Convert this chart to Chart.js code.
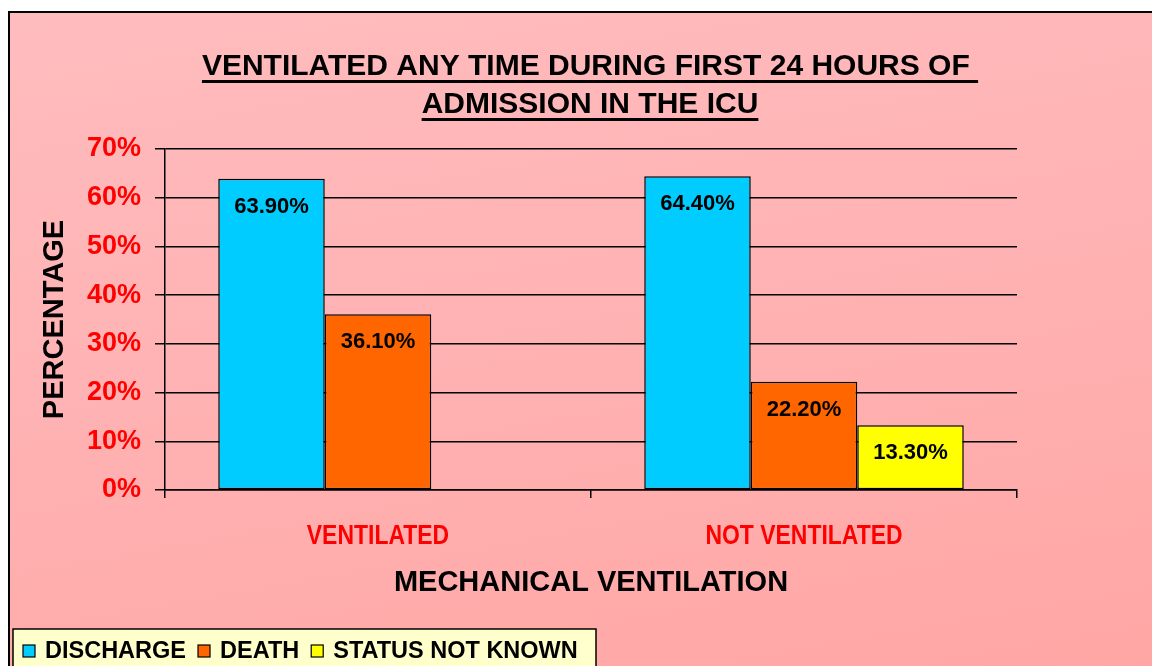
<!DOCTYPE html>
<html>
<head>
<meta charset="utf-8">
<script src="https://cdn.jsdelivr.net/npm/chart.js@4"></script>
<style>
  html, body { margin: 0; padding: 0; background: #fff; overflow: hidden; }
  #frame {
    position: absolute; left: 8px; top: 11px; width: 1200px; height: 700px;
    border: 2px solid #000;
    background: linear-gradient(170deg, #ffbcbe 0%, #ffb2b3 45%, #ffa5a3 100%);
  }
  #wrap { position: absolute; left: 0; top: 0; width: 1152px; height: 666px; }
</style>
</head>
<body>
<div id="frame"></div>
<div id="wrap"><canvas id="chart" width="1152" height="666"></canvas></div>
<script>
// data
var categories = ['VENTILATED', 'NOT VENTILATED'];
var seriesNames = ['DISCHARGE', 'DEATH', 'STATUS NOT KNOWN'];
var discharge = [63.9, 64.4];
var death = [36.1, 22.2];
var statusNotKnown = [null, 13.3];
var seriesColors = ['#00ccff', '#ff6600', '#ffff00'];
var titleLines = ['VENTILATED ANY TIME DURING FIRST 24 HOURS OF ', 'ADMISSION IN THE ICU'];
var yMax = 70, yStep = 10;

var FONT = '"Liberation Sans", Arial, sans-serif';

// underlined two line title
var titlePlugin = {
  id: 'ulTitle',
  afterDraw: function (chart) {
    var ctx = chart.ctx;
    var cx = 590, base = [75, 113];
    ctx.save();
    ctx.font = 'bold 30px ' + FONT;
    ctx.fillStyle = '#000';
    ctx.textAlign = 'left';
    ctx.textBaseline = 'alphabetic';
    titleLines.forEach(function (line, i) {
      var w = ctx.measureText(line).width;
      var x0 = cx - w / 2;
      ctx.fillText(line, x0, base[i]);
      ctx.fillRect(x0, base[i] + 5, w, 3);
    });
    ctx.restore();
  }
};

// category labels in a condensed face (no narrow font installed, so squeeze it)
var catPlugin = {
  id: 'narrowCats',
  afterDraw: function (chart) {
    var ctx = chart.ctx, xs = chart.scales.x;
    ctx.save();
    ctx.font = 'bold 27px ' + FONT;
    ctx.fillStyle = '#ff0000';
    ctx.textAlign = 'center';
    ctx.textBaseline = 'middle';
    xs.ticks.forEach(function (t, i) {
      var px = xs.getPixelForTick(i);
      ctx.save();
      ctx.translate(px, 537);
      ctx.scale(0.85, 1);
      ctx.fillText(categories[t.value], 0, 0);
      ctx.restore();
    });
    ctx.restore();
  }
};

// value labels inside the top of each bar
var labelPlugin = {
  id: 'barLabels',
  afterDatasetsDraw: function (chart) {
    var ctx = chart.ctx;
    ctx.save();
    ctx.font = 'bold 22px ' + FONT;
    ctx.fillStyle = '#000';
    ctx.textAlign = 'center';
    ctx.textBaseline = 'middle';
    chart.data.datasets.forEach(function (ds, i) {
      chart.getDatasetMeta(i).data.forEach(function (el, j) {
        var v = ds.data[j];
        if (v === null || v === undefined) return;
        ctx.fillText(v.toFixed(2) + '%', el.x, el.y + 28);
      });
    });
    ctx.restore();
  }
};

// boxed legend at the bottom left
var legendPlugin = {
  id: 'boxLegend',
  afterDraw: function (chart) {
    var ctx = chart.ctx;
    ctx.save();
    ctx.fillStyle = '#ffffcc';
    ctx.fillRect(13, 629, 583, 60);
    ctx.lineWidth = 1.5;
    ctx.strokeStyle = '#000';
    ctx.strokeRect(13, 629, 583, 60);
    ctx.font = 'bold 23.5px ' + FONT;
    ctx.textBaseline = 'middle';
    ctx.textAlign = 'left';
    var x = 23, y = 651;
    chart.data.datasets.forEach(function (ds) {
      ctx.fillStyle = ds.backgroundColor;
      ctx.fillRect(x, y - 6, 12, 12);
      ctx.lineWidth = 1.2;
      ctx.strokeRect(x, y - 6, 12, 12);
      x += 22;
      ctx.fillStyle = '#000';
      ctx.fillText(ds.label, x, y + 1);
      x += ctx.measureText(ds.label).width + 12;
    });
    ctx.restore();
  }
};

var seriesData = [discharge, death, statusNotKnown];

new Chart(document.getElementById('chart'), {
  type: 'bar',
  data: {
    labels: categories,
    datasets: seriesNames.map(function (name, i) {
      return {
        label: name,
        data: seriesData[i],
        backgroundColor: seriesColors[i],
        borderColor: '#000',
        borderWidth: 1.5,
        borderSkipped: false,
        categoryPercentage: 0.75,
        barPercentage: 1
      };
    })
  },
  options: {
    responsive: false,
    animation: false,
    layout: { padding: { top: 149, right: 135, bottom: 66, left: 0 } },
    plugins: {
      legend: { display: false },
      title: { display: false },
      tooltip: { enabled: false }
    },
    scales: {
      x: {
        afterFit: function (s) { s.height = 110; },
        grid: { drawOnChartArea: false, color: '#000', lineWidth: 1.5, tickLength: 8, offset: true },
        border: { color: '#000', width: 1.5 },
        ticks: { color: 'rgba(0,0,0,0)', padding: 23, font: { family: FONT, size: 27, weight: 'bold' } },
        title: {
          display: true, text: 'MECHANICAL VENTILATION', color: '#000',
          padding: { top: 0, bottom: 0 },
          font: { family: FONT, size: 29, weight: 'bold' }
        }
      },
      y: {
        min: 0, max: yMax,
        afterFit: function (s) { s.width = 165; },
        grid: { color: '#000', lineWidth: 1.5, tickLength: 10 },
        border: { color: '#000', width: 1.5 },
        ticks: {
          stepSize: yStep, color: '#ff0000', padding: 14,
          font: { family: FONT, size: 27, weight: 'bold' },
          callback: function (v) { return v + '%'; }
        },
        title: {
          display: true, text: 'PERCENTAGE', color: '#000',
          padding: { top: 38, bottom: 0 },
          font: { family: FONT, size: 29, weight: 'bold' }
        }
      }
    }
  },
  plugins: [titlePlugin, catPlugin, labelPlugin, legendPlugin]
});
</script>
</body>
</html>
